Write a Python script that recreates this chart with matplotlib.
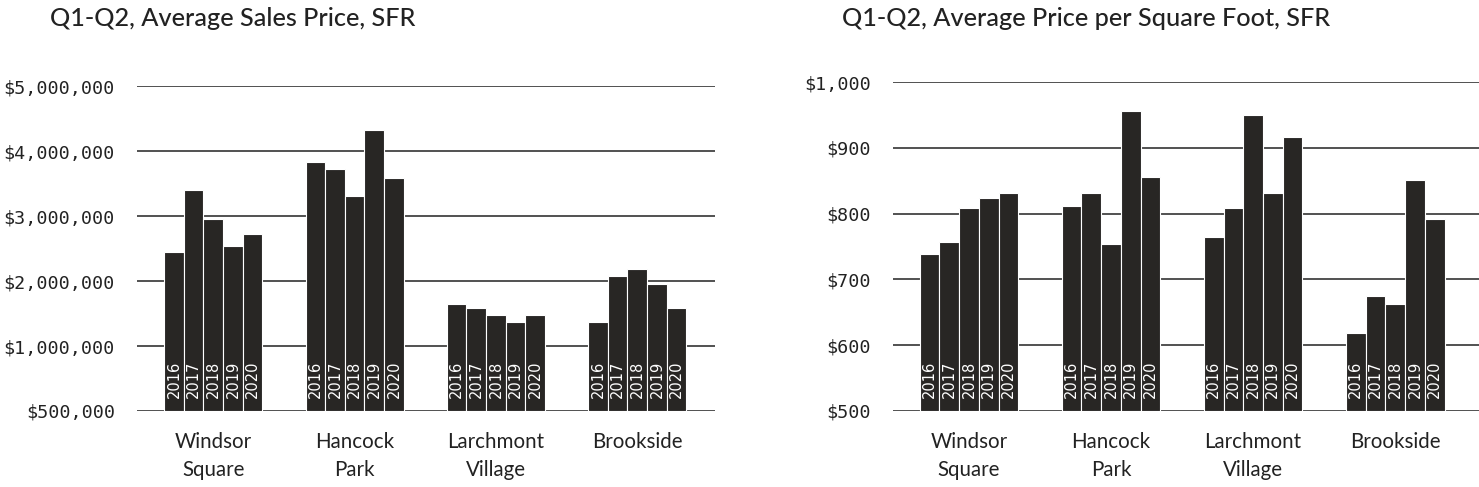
import numpy as np
import matplotlib.pyplot as plt

# Datos
barrios = ['Windsor\nSquare', 'Hancock\nPark', 'Larchmont\nVillage', 'Brookside']
anios = ['2016', '2017', '2018', '2019', '2020']

# Precio promedio de venta (USD), por barrio y anio
precio_venta = [
    [2450000, 3400000, 2950000, 2540000, 2720000],
    [3830000, 3720000, 3310000, 4320000, 3580000],
    [1650000, 1580000, 1480000, 1370000, 1480000],
    [1370000, 2080000, 2180000, 1950000, 1580000],
]
ticks_venta = [0, 1000000, 2000000, 3000000, 4000000, 5000000]
etiquetas_venta = ['$500,000', '$1,000,000', '$2,000,000', '$3,000,000',
                   '$4,000,000', '$5,000,000']

# Precio promedio por pie cuadrado (USD)
precio_pie = [
    [739, 757, 809, 823, 832],
    [812, 832, 754, 956, 855],
    [765, 809, 950, 832, 917],
    [618, 675, 663, 851, 792],
]
ticks_pie = [500, 600, 700, 800, 900, 1000]
etiquetas_pie = ['$500', '$600', '$700', '$800', '$900', '$1,000']

color_barra = '#282624'
fuente_titulo = 'Lato'
fuente_ticks = 'DejaVu Sans Mono'

fig = plt.figure(figsize=(14.79, 4.87), dpi=100)
ax1 = fig.add_axes([137/1479, 1-411/487, 578/1479, (411-86)/487])
ax2 = fig.add_axes([893/1479, 1-411/487, 586/1479, (411-82)/487])


def dibujar(ax, datos, base, tope, ticks, etiquetas, xlim, titulo, titulo_x):
    datos = np.array(datos)
    n = len(anios)
    ancho = 0.139
    x = np.arange(len(barrios))
    for i in range(n):
        pos = x + (i - (n - 1) / 2) * ancho
        ax.bar(pos, datos[:, i] - base, bottom=base, width=ancho,
               color=color_barra, edgecolor='white', linewidth=0.8, zorder=3)
        for p in pos:
            ax.annotate(anios[i], (p, base), xytext=(0, 13), textcoords='offset pixels',
                        rotation=90, ha='center', va='bottom', color='white',
                        fontsize=10.5, family='DejaVu Sans', zorder=4)
    for t in ticks:
        ax.axhline(t, color='#222222', linewidth=1.1, zorder=1)
    ax.set_ylim(base, tope)
    ax.set_xlim(*xlim)
    ax.set_yticks(ticks)
    ax.set_yticklabels(etiquetas, family=fuente_ticks, fontsize=13.2, color='#222222')
    ax.set_xticks(x)
    ax.set_xticklabels(barrios, family=fuente_titulo, fontsize=14.8, color='#222222',
                       linespacing=1.5)
    ax.tick_params(axis='both', length=0)
    ax.tick_params(axis='y', pad=16)
    ax.tick_params(axis='x', pad=15)
    for s in ax.spines.values():
        s.set_visible(False)
    fig.text(titulo_x, 1 - 18/487, titulo, family=fuente_titulo, fontsize=18.2,
             weight='medium', color='#222222', ha='left', va='center')


dibujar(ax1, precio_venta, 0, 5000000, ticks_venta, etiquetas_venta, (-0.54, 3.55),
        'Q1-Q2, Average Sales Price, SFR', 50/1479)
dibujar(ax2, precio_pie, 500, 1000, ticks_pie, etiquetas_pie, (-0.535, 3.59),
        'Q1-Q2, Average Price per Square Foot, SFR', 842/1479)

fig.savefig('out.png', dpi=100)
